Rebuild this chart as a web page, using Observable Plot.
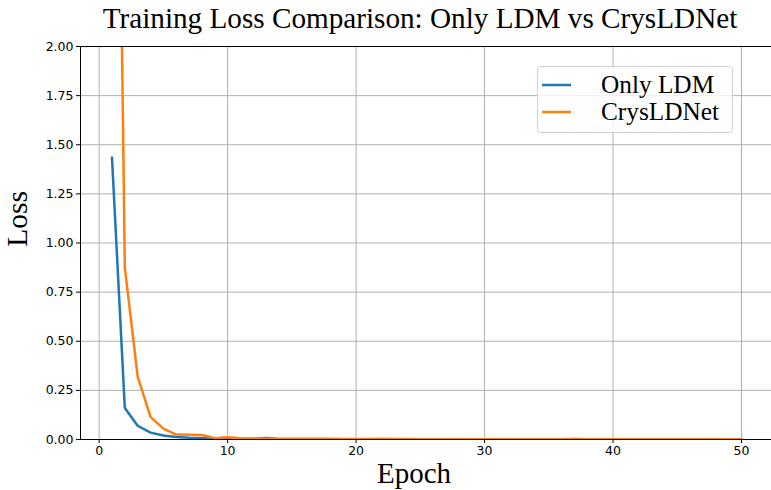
<!DOCTYPE html>
<html>
<head>
<meta charset="utf-8">
<script src="https://cdn.jsdelivr.net/npm/d3@7"></script>
<script src="https://cdn.jsdelivr.net/npm/@observablehq/plot@0.6"></script>
<style>
  html, body { margin: 0; padding: 0; background: #fff; }
  svg { display: block; }
</style>
</head>
<body>
<div id="chart"></div>
<script>
const epochs = Array.from({length: 50}, (_, i) => i + 1);
const onlyLDM = [1.435, 0.16, 0.07, 0.035, 0.02, 0.013, 0.009, 0.007, 0.005, 0.004,
  0.003, 0.003, 0.008, 0.003, 0.002, 0.002, 0.002, 0.002, 0.001, 0.001,
  0.001, 0.002, 0.001, 0.001, 0.001, 0.001, 0.001, 0.001, 0.001, 0.001,
  0.001, 0.001, 0.001, 0.001, 0.001, 0.001, 0.003, 0.001, 0.001, 0.001,
  0.001, 0.001, 0.001, 0.001, 0.001, 0.001, 0.001, 0.001, 0.001, 0.001];
const crysLDNet = [6.0, 0.875, 0.32, 0.115, 0.055, 0.025, 0.024, 0.023, 0.007, 0.011,
  0.006, 0.005, 0.004, 0.003, 0.003, 0.002, 0.002, 0.002, 0.002, 0.002,
  0.002, 0.002, 0.002, 0.002, 0.001, 0.001, 0.001, 0.001, 0.001, 0.001,
  0.001, 0.001, 0.001, 0.001, 0.001, 0.001, 0.001, 0.001, 0.001, 0.001,
  0.001, 0.001, 0.001, 0.001, 0.001, 0.001, 0.001, 0.001, 0.001, 0.001];
const seriesNames = ["Only LDM", "CrysLDNet"];
const seriesColors = ["#1f77b4", "#ff7f0e"];
const xTicks = [0, 10, 20, 30, 40, 50];
const yTicks = [0, 0.25, 0.5, 0.75, 1.0, 1.25, 1.5, 1.75, 2.0];

const data = [];
epochs.forEach((e, i) => {
  data.push({epoch: e, loss: onlyLDM[i], series: seriesNames[0]});
  data.push({epoch: e, loss: crysLDNet[i], series: seriesNames[1]});
});

const W = 771, H = 490;
const chart = Plot.plot({
  width: W,
  height: H,
  marginTop: 46,
  marginBottom: 51,
  marginLeft: 80,
  marginRight: 0,
  style: {fontFamily: "DejaVu Sans", fontSize: "12.5px", color: "#000", background: "#fff"},
  x: {domain: [-1.45, 52.45], range: [80, 772.5], ticks: xTicks, tickFormat: d3.format("d"), label: null, tickSize: 4},
  y: {domain: [0, 2], ticks: yTicks, tickFormat: d3.format(".2f"), label: null, tickSize: 4},
  color: {domain: seriesNames, range: seriesColors},
  marks: [
    Plot.gridX(xTicks, {stroke: "#b0b0b0", strokeOpacity: 1, strokeWidth: 1}),
    Plot.gridY(yTicks, {stroke: "#b0b0b0", strokeOpacity: 1, strokeWidth: 1}),
    Plot.line(data, {x: "epoch", y: "loss", z: "series", stroke: "series", strokeWidth: 2.5, clip: true}),
    Plot.frame({stroke: "#000", strokeWidth: 1}),
    Plot.axisX({ticks: xTicks, tickFormat: d3.format("d"), tickSize: 4, tickPadding: 3, label: null}),
    Plot.axisY({ticks: yTicks, tickFormat: d3.format(".2f"), tickSize: 4, tickPadding: 3, label: null})
  ]
});
document.getElementById("chart").appendChild(chart);

const svg = d3.select(chart);
const serif = "'Liberation Serif', 'Times New Roman', serif";
svg.append("text").attr("x", 420).attr("y", 28).attr("text-anchor", "middle")
  .style("font-family", serif).style("font-size", "29.2px").attr("fill", "#000")
  .text("Training Loss Comparison: Only LDM vs CrysLDNet");
svg.append("text").attr("x", 414).attr("y", 483).attr("text-anchor", "middle")
  .style("font-family", serif).style("font-size", "29px").attr("fill", "#000")
  .text("Epoch");
svg.append("text").attr("transform", "translate(27,219) rotate(-90)").attr("text-anchor", "middle")
  .style("font-family", serif).style("font-size", "29.5px").attr("fill", "#000")
  .text("Loss");

const lg = svg.append("g");
lg.append("rect").attr("x", 537.5).attr("y", 66.5).attr("width", 195).attr("height", 66).attr("rx", 3)
  .attr("fill", "#fff").attr("fill-opacity", 0.8).attr("stroke", "#d0d0d0");
seriesNames.forEach((name, i) => {
  const yy = 85 + i * 27;
  lg.append("line").attr("x1", 542).attr("x2", 571).attr("y1", yy).attr("y2", yy)
    .attr("stroke", seriesColors[i]).attr("stroke-width", 2.5);
  lg.append("text").attr("x", 601).attr("y", yy + 8).attr("text-anchor", "start")
    .style("font-family", serif).style("font-size", "25.3px").attr("fill", "#000").text(name);
});
</script>
</body>
</html>
